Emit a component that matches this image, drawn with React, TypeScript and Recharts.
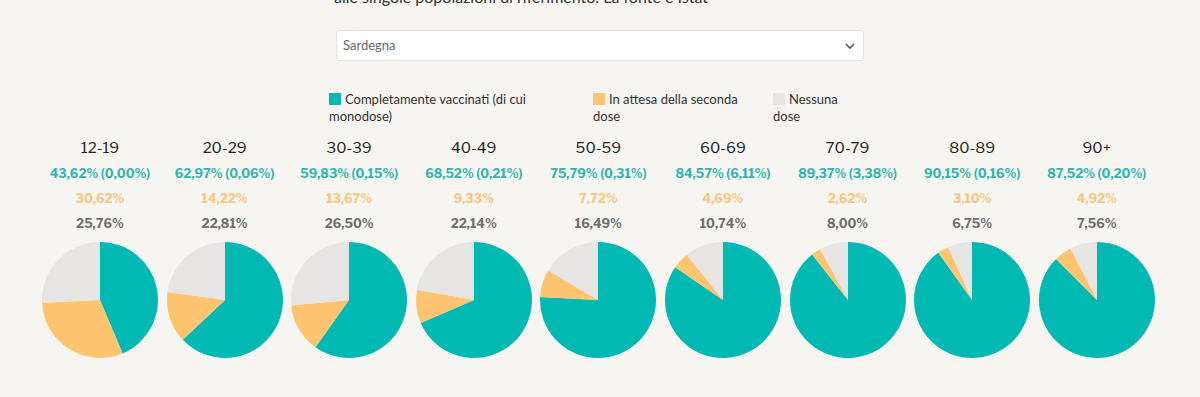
import { PieChart, Pie, Cell } from "recharts";

const ages = ["12-19", "20-29", "30-39", "40-49", "50-59", "60-69", "70-79", "80-89", "90+"];
const completi = [43.62, 62.97, 59.83, 68.52, 75.79, 84.57, 89.37, 90.15, 87.52];
const monodose = [0.0, 0.06, 0.15, 0.21, 0.31, 6.11, 3.38, 0.16, 0.2];
const inAttesa = [30.62, 14.22, 13.67, 9.33, 7.72, 4.69, 2.62, 3.1, 4.92];
const nessuna = [25.76, 22.81, 26.5, 22.14, 16.49, 10.74, 8.0, 6.75, 7.56];

const TEAL = "#00b9b2";
const ORANGE = "#fec46f";
const GRAY = "#e6e5e4";
const BG = "#f6f5f1";

const labels = ["Completamente vaccinati (di cui monodose)", "In attesa della seconda dose", "Nessuna dose"];
const colors = [TEAL, ORANGE, GRAY];

const fmt = (v: number) => v.toFixed(2).replace(".", ",") + "%";

const font = "'Libre Franklin', Inter, 'Noto Sans', sans-serif";

function AgePie({ i }: { i: number }) {
  const data = [
    { name: labels[0], value: completi[i] },
    { name: labels[1], value: inAttesa[i] },
    { name: labels[2], value: nessuna[i] },
  ];
  return (
    <div style={{ width: 124.6, textAlign: "center", fontFamily: font }}>
      <div style={{ fontSize: 15, color: "#222", height: 25, lineHeight: "25px" }}>{ages[i]}</div>
      <div style={{ fontSize: 12.5, fontWeight: 700, color: "#2fb5b0", height: 25, lineHeight: "25px", whiteSpace: "nowrap" }}>
        {fmt(completi[i])} ({fmt(monodose[i])})
      </div>
      <div style={{ fontSize: 12.5, fontWeight: 700, color: "#f9c57e", height: 25, lineHeight: "25px" }}>{fmt(inAttesa[i])}</div>
      <div style={{ fontSize: 12.5, fontWeight: 700, color: "#6e6e6e", height: 25, lineHeight: "25px" }}>{fmt(nessuna[i])}</div>
      <div style={{ display: "flex", justifyContent: "center", marginTop: 2 }}>
        <PieChart width={124} height={124}>
          <Pie
            data={data}
            dataKey="value"
            cx="50%"
            cy="50%"
            outerRadius={58}
            startAngle={90}
            endAngle={-270}
            stroke="none"
            isAnimationActive={false}
          >
            {data.map((d, k) => (
              <Cell key={d.name} fill={colors[k]} />
            ))}
          </Pie>
        </PieChart>
      </div>
    </div>
  );
}

export default function App() {
  return (
    <div
      style={{
        position: "absolute",
        top: 0,
        left: 0,
        width: 1200,
        height: 397,
        background: BG,
        overflow: "hidden",
        fontFamily: "'Source Sans Pro', Lato, 'Open Sans', sans-serif",
      }}
    >
      <div style={{ position: "absolute", left: 334, top: -13, fontSize: 16, color: "#333" }}>
        alle singole popolazioni di riferimento. La fonte è Istat
      </div>
      <div
        style={{
          position: "absolute",
          left: 336,
          top: 30,
          width: 526,
          height: 29,
          background: "#fff",
          border: "1px solid #e4e4e4",
          borderRadius: 3,
          fontSize: 13,
          color: "#666",
          lineHeight: "29px",
          boxSizing: "content-box",
        }}
      >
        <span style={{ marginLeft: 6 }}>Sardegna</span>
        <svg width="10" height="8" style={{ position: "absolute", right: 8, top: 11 }}>
          <path d="M1 2 L5 6 L9 2" stroke="#555" strokeWidth="1.6" fill="none" />
        </svg>
      </div>
      {labels.map((l, k) => (
        <div
          key={l}
          style={{
            position: "absolute",
            left: [329, 593, 773][k],
            top: 91,
            width: [215, 175, 75][k],
            fontSize: 13,
            lineHeight: "17px",
            color: "#333",
          }}
        >
          <span
            style={{
              display: "inline-block",
              width: 12,
              height: 12,
              background: colors[k],
              marginRight: 4,
              verticalAlign: "-1px",
            }}
          />
          {l}
        </div>
      ))}
      <div style={{ position: "absolute", left: 37.7, top: 136, display: "flex" }}>
        {ages.map((a, i) => (
          <AgePie key={a} i={i} />
        ))}
      </div>
    </div>
  );
}
